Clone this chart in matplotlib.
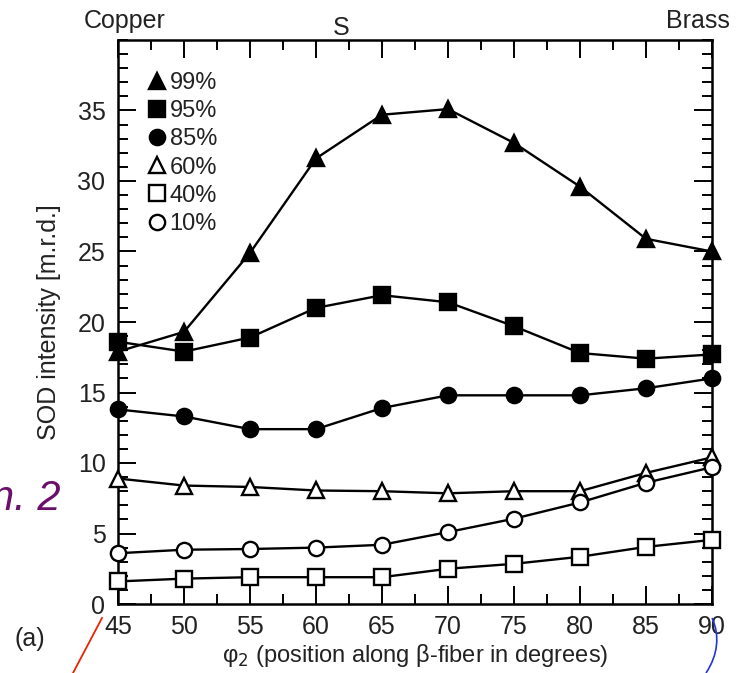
import matplotlib
matplotlib.use("Agg")
import matplotlib.pyplot as plt
from matplotlib.ticker import MultipleLocator
from matplotlib.lines import Line2D
from matplotlib.path import Path
from matplotlib.patches import PathPatch

plt.rcParams['font.family'] = ['Liberation Sans', 'DejaVu Sans']

phi2 = [45, 50, 55, 60, 65, 70, 75, 80, 85, 90]
s99 = [17.9, 19.3, 24.9, 31.6, 34.7, 35.1, 32.7, 29.6, 25.9, 25.0]
s95 = [18.6, 17.9, 18.9, 21.0, 21.9, 21.4, 19.7, 17.8, 17.4, 17.7]
s85 = [13.8, 13.3, 12.4, 12.4, 13.9, 14.8, 14.8, 14.8, 15.3, 16.0]
s60 = [8.9, 8.4, 8.3, 8.05, 8.0, 7.85, 8.0, 8.0, 9.3, 10.4]
s40 = [1.6, 1.8, 1.9, 1.9, 1.9, 2.5, 2.85, 3.35, 4.05, 4.55]
s10 = [3.6, 3.85, 3.9, 4.0, 4.2, 5.1, 6.05, 7.2, 8.6, 9.7]
labels = ["99%", "95%", "85%", "60%", "40%", "10%"]
top_labels = ["Copper", "S", "Brass"]
top_pos = [45.5, 61.9, 88.9]

fig = plt.figure(figsize=(7.42, 6.73), dpi=100)
ax = fig.add_axes([118/742, 69/673, 594/742, 564/673])

series = [(s99, '^', 'k'), (s95, 's', 'k'), (s85, 'o', 'k'),
          (s60, '^', 'white'), (s40, 's', 'white'), (s10, 'o', 'white')]
handles = []
for (vals, m, fc), lab in zip(series, labels):
    ax.plot(phi2, vals, color='k', lw=1.7, zorder=2)
    ax.plot(phi2, vals, ls='none', marker=m, ms=11, mfc=fc, mec='k', mew=1.7,
            zorder=3, clip_on=False)
    handles.append(Line2D([], [], ls='none', marker=m, ms=11, mfc=fc, mec='k',
                          mew=1.7, label=lab))

ax.set_xlim(45, 90)
ax.set_ylim(0, 40)
ax.xaxis.set_major_locator(MultipleLocator(5))
ax.xaxis.set_minor_locator(MultipleLocator(2.5))
ax.yaxis.set_minor_locator(MultipleLocator(1))
ax.set_yticks([0, 5, 10, 15, 20, 25, 30, 35])
ax.tick_params(which='both', direction='in', top=True, right=True, width=1.4,
               labelsize=18, colors='k', labelcolor='#222222')
ax.tick_params(axis='y', pad=9)
ax.tick_params(axis='x', pad=8)
ax.tick_params(which='major', length=13)
ax.tick_params(which='minor', length=7)
for sp in ax.spines.values():
    sp.set_linewidth(1.8)

ax.set_xlabel("φ$_2$ (position along β-fiber in degrees)", fontsize=17,
              labelpad=2, color='#222222')
ax.set_ylabel("SOD intensity [m.r.d.]", fontsize=18, labelpad=12, color='#222222')

ys = {"Copper": 40.85, "S": 40.35, "Brass": 40.85}
for t, p in zip(top_labels, top_pos):
    ax.text(p, ys[t], t, ha='center', va='baseline', fontsize=18,
            color='#222222', clip_on=False)

leg = ax.legend(handles=handles, loc='upper left', frameon=False, fontsize=17,
                handletextpad=0.05, labelspacing=0.26, borderaxespad=0.0,
                handlelength=1.0, borderpad=0.0, bbox_to_anchor=(0.045, 0.943))
for t in leg.get_texts():
    t.set_color('#222222')

fig.text(15/742, 1 - 639/673, "(a)", fontsize=18, va='center', ha='left',
         color='#222222')
fig.text(-9/742, 1 - 510/673, "n. 2", fontsize=30, style='italic', color='#6b0f6b',
         va='baseline', ha='left')
fig.add_artist(Line2D([102/742, 73/742], [1 - 618/673, 1 - 673/673],
                      color='#ee2200', lw=1.3))
verts = [(712/742, 1 - 618/673), (720/742, 1 - 635/673), (718/742, 1 - 655/673),
         (706/742, 1 - 673/673)]
fig.add_artist(PathPatch(Path(verts, [Path.MOVETO, Path.CURVE4, Path.CURVE4, Path.CURVE4]),
                         transform=fig.transFigure, fill=False, ec='#2233dd', lw=1.2))

fig.savefig("out.png", dpi=100)
